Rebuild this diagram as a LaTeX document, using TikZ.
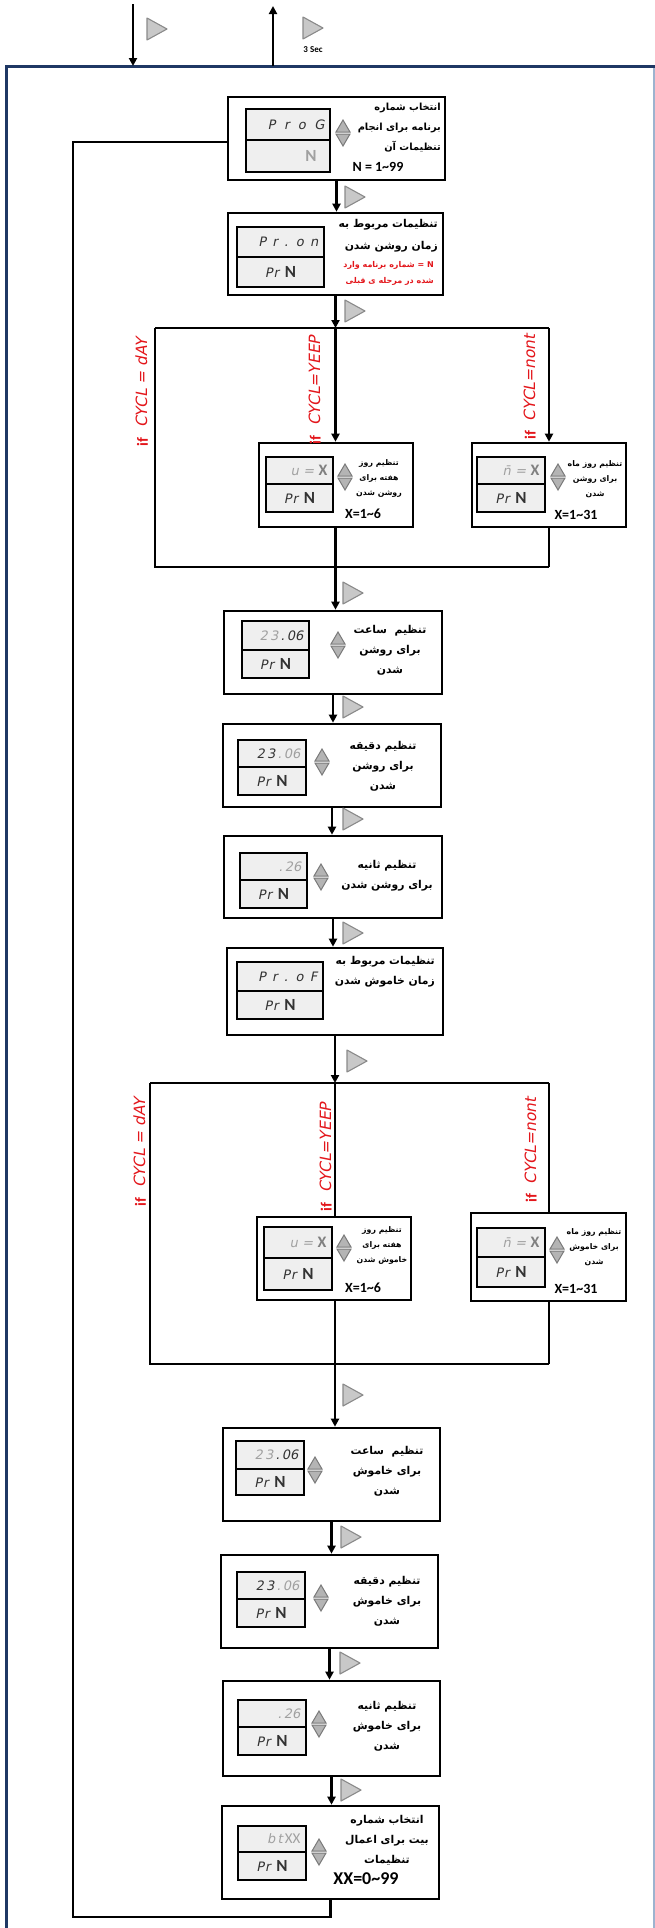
\documentclass[tikz,border=0pt]{standalone}
\usepackage{fontspec}
\setmainfont{Carlito}
\newfontfamily\fa[Script=Arabic]{DejaVu Sans}
\newfontfamily\seg[FakeSlant=0.2]{DejaVu Sans}
\newfontfamily\lat{Carlito}
\TeXXeTstate=1
\usetikzlibrary{arrows.meta}
\definecolor{navy}{HTML}{1F3864}
\definecolor{lightframe}{HTML}{9DB3CF}
\definecolor{disp}{HTML}{EFEFEF}
\definecolor{tri}{HTML}{C8C8C8}
\definecolor{trid}{HTML}{8A8A8A}
\definecolor{segdark}{HTML}{333333}
\definecolor{seglight}{HTML}{A0A0A0}
\definecolor{redt}{HTML}{E3161B}
\definecolor{spinf}{HTML}{B4B4B4}
\definecolor{spind}{HTML}{7A7A7A}
\newcommand\R[1]{\beginR#1\endR}
\newcommand\tl{\textasciitilde}
\newcommand\PrN{{\seg\color{segdark}P\kern1pt r}\hspace{6pt}{\lat\bfseries\fontsize{17}{17}\selectfont N}}
\newcommand\segX{{\lat\bfseries\fontsize{16}{16}\selectfont\color{seglight!80!black}X}}
\tikzset{
  stepbox/.style={draw=black, line width=2.6pt, fill=white, inner sep=0pt},
  dispbox/.style={draw=black, line width=1.1pt, fill=disp, inner sep=0pt},
  conn/.style={line width=2.3pt},
  arr/.style={conn, -{Triangle[length=8pt,width=8pt]}},
  playst/.style={draw=trid, fill=tri, line width=1.1pt, line join=round},
  spinst/.style={draw=spind, fill=spinf, line width=1pt},
  segtxt/.style={font=\seg\fontsize{13}{13}\selectfont, text=segdark},
  fatxt/.style={font=\fa\bfseries\fontsize{10.8}{20}\selectfont, inner sep=0pt},
  fasmall/.style={font=\fa\bfseries\fontsize{7.8}{15}\selectfont, inner sep=0pt},
  fared/.style={font=\fa\bfseries\fontsize{8}{16}\selectfont, text=redt, inner sep=0pt},
  lattxt/.style={font=\lat\bfseries\fontsize{14}{14}\selectfont, inner sep=0pt},
  redrot/.style={rotate=90, text=redt, font=\seg\fontsize{15.5}{15.5}\selectfont, inner sep=0pt},
}
\newcommand\mkbox[5]{\node[stepbox, minimum width={(#4-#2)*1pt}, minimum height={(#5-#3)*1pt}] (#1) at ({(#2+#4)/2},{(#3+#5)/2}) {};}
\newcommand\mkdisp[8]{%
  \node[dispbox, minimum width={(#4-#2)*1pt}, minimum height={(#5-#3)*1pt}] (#1a) at ({(#2+#4)/2},{(#3+#5)/2}) {};
  \node[dispbox, minimum width={(#4-#2)*1pt}, minimum height={(#6-#5)*1pt}] (#1b) at ({(#2+#4)/2},{(#5+#6)/2}) {};
  \node[segtxt, anchor=east, inner sep=0pt] (#1t) at ([xshift=-6pt]#1a.east) {#7};
  \node[segtxt, inner sep=0pt] (#1n) at (#1b.center) {#8};}
\newcommand\spin[3]{\coordinate (#1) at (#2,#3);
  \draw[spinst] ([xshift=-7pt,yshift=1pt]#1) -- ([xshift=7pt,yshift=1pt]#1) -- ([yshift=13pt]#1) -- cycle;
  \draw[spinst] ([xshift=-7pt,yshift=-1pt]#1) -- ([xshift=7pt,yshift=-1pt]#1) -- ([yshift=-13pt]#1) -- cycle;}
\newcommand\play[3]{\coordinate (#1) at (#2,#3);
  \draw[playst] (#1) -- ([xshift=20pt,yshift=-11pt]#1) -- ([yshift=-22pt]#1) -- cycle;}
\begin{document}
\begin{tikzpicture}[x=1pt,y=-1pt]
\useasboundingbox (0,0) rectangle (655,1928);
% frame
\coordinate (fTL) at (6,66); \coordinate (fTR) at (655,66); \coordinate (fBL) at (6,1928);
\coordinate (fR1) at (654,66); \coordinate (fR2) at (654,1928);
\draw[lightframe, line width=1.5pt] (fR1) -- (fR2);
\draw[navy, line width=3pt] (fBL) -- (fTL) -- (fTR);
% entry / exit arrows
\coordinate (inT) at (133,4); \coordinate (inB) at (133,66);
\coordinate (outB) at (273,66); \coordinate (outT) at (273,6);
\draw[arr] (inT) -- (inB);
\draw[arr] (outB) -- (outT);
\play{tA}{147}{18}
\play{tB}{303}{17}
\node[font=\lat\bfseries\fontsize{9}{9}\selectfont, inner sep=0pt] (sec) at (313,50) {3 Sec};

% ---------- boxes ----------
\mkbox{b1}{228}{97}{445}{180}
\mkbox{b2}{228}{213}{443}{295}
\mkbox{wk1}{259}{443}{413}{527}
\mkbox{mo1}{472}{443}{626}{527}
\mkbox{b3}{224}{611}{442}{694}
\mkbox{b4}{223}{724}{441}{807}
\mkbox{b5}{224}{836}{442}{918}
\mkbox{b6}{227}{948}{443}{1035}
\mkbox{wk2}{257}{1217}{411}{1300}
\mkbox{mo2}{471}{1213}{626}{1301}
\mkbox{b7}{223}{1428}{440}{1521}
\mkbox{b8}{221}{1555}{438}{1648}
\mkbox{b9}{223}{1681}{440}{1776}
\mkbox{b10}{222}{1806}{439}{1899}

% ---------- displays ----------
\mkdisp{d1}{246}{109}{330}{140}{172}{P\,\, r\,\, o\,\, G}{\hspace*{46pt}{\lat\bfseries\fontsize{17}{17}\selectfont\color{seglight}N}}
\mkdisp{d2}{237}{227}{324}{257}{287}{P\, r\, .\, o\, n}{\PrN}
\mkdisp{dw1}{266}{457}{333}{484}{512}{{\color{seglight}u\,\,=\,\,}\segX}{\PrN}
\mkdisp{dm1}{477}{457}{545}{484}{512}{{\color{seglight}n̄\,\,=\,\,}\segX}{\PrN}
\mkdisp{d3}{242}{621}{309}{650}{678}{{\color{seglight}2\,3}\,.\,06}{\PrN}
\mkdisp{d4}{238}{740}{306}{767}{795}{2\,3\,{\color{seglight}.\,06}}{\PrN}
\mkdisp{d5}{240}{853}{307}{880}{908}{{\color{seglight}.\,26}}{\PrN}
\mkdisp{d6}{237}{962}{323}{991}{1019}{P\, r\, .\, o\, F}{\PrN}
\mkdisp{dw2}{264}{1227}{332}{1258}{1290}{{\color{seglight}u\,\,=\,\,}\segX}{\PrN}
\mkdisp{dm2}{477}{1228}{545}{1257}{1287}{{\color{seglight}n̄\,\,=\,\,}\segX}{\PrN}
\mkdisp{d7}{236}{1441}{304}{1469}{1495}{{\color{seglight}2\,3}\,.\,06}{\PrN}
\mkdisp{d8}{237}{1572}{305}{1599}{1627}{2\,3\,{\color{seglight}.\,06}}{\PrN}
\mkdisp{d9}{238}{1700}{306}{1727}{1755}{{\color{seglight}.\,26}}{\PrN}
\mkdisp{d10}{238}{1826}{306}{1852}{1880}{{\color{seglight}b\,t\,{\lat\fontsize{15}{15}\selectfont XX}}}{\PrN}

% ---------- spinners ----------
\spin{s1}{343}{133}
\spin{sw1}{345}{477}
\spin{sm1}{558}{477}
\spin{s3}{338}{645}
\spin{s4}{322}{762}
\spin{s5}{321}{877}
\spin{sw2}{344}{1248}
\spin{sm2}{557}{1250}
\spin{s7}{315}{1470}
\spin{s8}{321}{1598}
\spin{s9}{319}{1724}
\spin{s10}{319}{1852}

% ---------- texts ----------
\node[fatxt, align=right, anchor=east, font=\fa\bfseries\fontsize{9.8}{20}\selectfont] (x1) at (441,128) {\R{انتخاب شماره}\\\R{برنامه برای انجام}\\\R{تنظیمات آن}};
\node[lattxt] (x1n) at (378,167) {N = 1\tl99};
\node[fatxt, align=right, anchor=east, font=\fa\bfseries\fontsize{10.8}{22}\selectfont] (x2) at (438,236) {\R{تنظیمات مربوط به}\\\R{زمان روشن شدن}};
\node[fared, align=right, anchor=east] (x2r) at (434,273) {\R{N = شماره برنامه وارد}\\\R{شده در مرحله ی قبلی}};
\node[fasmall, align=center] (xw1) at (379,478) {\R{تنظیم روز}\\\R{هفته برای}\\\R{روشن شدن}};
\node[lattxt] (xw1n) at (363,514) {X=1\tl6};
\node[fasmall, align=center] (xm1) at (595,479) {\R{تنظیم روز ماه}\\\R{برای روشن}\\\R{شدن}};
\node[lattxt] (xm1n) at (576,515) {X=1\tl31};
\node[fatxt, align=center] (x3) at (390,650) {\R{تنظیم\ \ ساعت}\\\R{برای روشن}\\\R{شدن}};
\node[fatxt, align=center] (x4) at (383,766) {\R{تنظیم دقیقه}\\\R{برای روشن}\\\R{شدن}};
\node[fatxt, align=center] (x5) at (387,876) {\R{تنظیم ثانیه}\\\R{برای روشن شدن}};
\node[fatxt, align=right, anchor=east] (x6) at (435,972) {\R{تنظیمات مربوط به}\\\R{زمان خاموش شدن}};
\node[fasmall, align=center] (xw2) at (382,1245) {\R{تنظیم روز}\\\R{هفته برای}\\\R{خاموش شدن}};
\node[lattxt] (xw2n) at (363,1288) {X=1\tl6};
\node[fasmall, align=center] (xm2) at (594,1247) {\R{تنظیم روز ماه}\\\R{برای خاموش}\\\R{شدن}};
\node[lattxt] (xm2n) at (576,1289) {X=1\tl31};
\node[fatxt, align=center] (x7) at (387,1471) {\R{تنظیم\ \ ساعت}\\\R{برای خاموش}\\\R{شدن}};
\node[fatxt, align=center] (x8) at (387,1601) {\R{تنظیم دقیقه}\\\R{برای خاموش}\\\R{شدن}};
\node[fatxt, align=center] (x9) at (387,1726) {\R{تنظیم ثانیه}\\\R{برای خاموش}\\\R{شدن}};
\node[fatxt, align=center] (x10) at (387,1840) {\R{انتخاب شماره}\\\R{بیت برای اعمال}\\\R{تنظیمات}};
\node[lattxt, font=\lat\bfseries\fontsize{18}{18}\selectfont] (x10n) at (366,1879) {XX=0\tl99};

% red conditions
\node[redrot] (c1) at (142,392) {{\lat\bfseries if}\ \ CYCL = dAY};
\node[redrot] (c2) at (315,390) {{\lat\bfseries if}\ \ CYCL=YEEP};
\node[redrot] (c3) at (530,387) {{\lat\bfseries if}\ \ CYCL=nont};
\node[redrot] (c4) at (140,1152) {{\lat\bfseries if}\ \ CYCL = dAY};
\node[redrot] (c5) at (326,1157) {{\lat\bfseries if}\ \ CYCL=YEEP};
\node[redrot] (c6) at (531,1150) {{\lat\bfseries if}\ \ CYCL=nont};

% ---------- connectors ----------
\draw[arr] (b1.south) -- (b1.south |- b2.north);
\play{t1}{345}{186}
% branch 1
\coordinate (br1) at (335.5,328); \coordinate (bl1) at (155,328); \coordinate (brr1) at (549,328);
\coordinate (bl1b) at (155,567); \coordinate (bm1) at (335.5,567); \coordinate (brr1b) at (549,567);
\draw[arr] (b2.south) -- (br1);
\play{t2}{345}{300}
\draw[conn] (bl1) -- (brr1);
\draw[conn] (bl1) -- (bl1b) -- (brr1b);
\draw[arr] (br1) -- (br1 |- wk1.north);
\draw[arr] (brr1) -- (brr1 |- mo1.north);
\draw[conn] (wk1.south -| br1) -- (bm1);
\draw[conn] (mo1.south -| brr1) -- (brr1b);
\draw[arr] (bm1) -- (bm1 |- b3.north);
\play{t3}{343}{582}
\draw[arr] (b3.south) -- (b3.south |- b4.north);
\play{t4}{343}{696}
\draw[arr] (b4.south) -- (b4.south |- b5.north);
\play{t5}{343}{808}
\draw[arr] (b5.south) -- (b5.south |- b6.north);
\play{t6}{343}{922}
% branch 2
\coordinate (br2) at (335,1083); \coordinate (bl2) at (150,1083); \coordinate (brr2) at (549,1083);
\coordinate (bl2b) at (150,1364); \coordinate (bm2) at (335,1364); \coordinate (brr2b) at (549,1364);
\draw[arr] (b6.south) -- (br2);
\play{t7}{347}{1050}
\draw[conn] (bl2) -- (brr2);
\draw[conn] (bl2) -- (bl2b) -- (brr2b);
\draw[conn] (br2) -- (br2 |- wk2.north);
\draw[conn] (brr2) -- (brr2 |- mo2.north);
\draw[conn] (wk2.south -| br2) -- (bm2);
\draw[conn] (mo2.south -| brr2) -- (brr2b);
\draw[arr] (bm2) -- (bm2 |- b7.north);
\play{t8}{343}{1384}
\draw[arr] (b7.south) -- (b7.south |- b8.north);
\play{t9}{341}{1526}
\draw[arr] (b8.south) -- (b8.south |- b9.north);
\play{t10}{340}{1652}
\draw[arr] (b9.south) -- (b9.south |- b10.north);
\play{t11}{341}{1779}
% loop back
\coordinate (lp1) at (330.5,1917); \coordinate (lp2) at (73,1917); \coordinate (lp3) at (73,142);
\draw[conn] (b10.south) -- (lp1) -- (lp2) -- (lp3) -- (lp3 -| b1.west);
\end{tikzpicture}
\end{document}
